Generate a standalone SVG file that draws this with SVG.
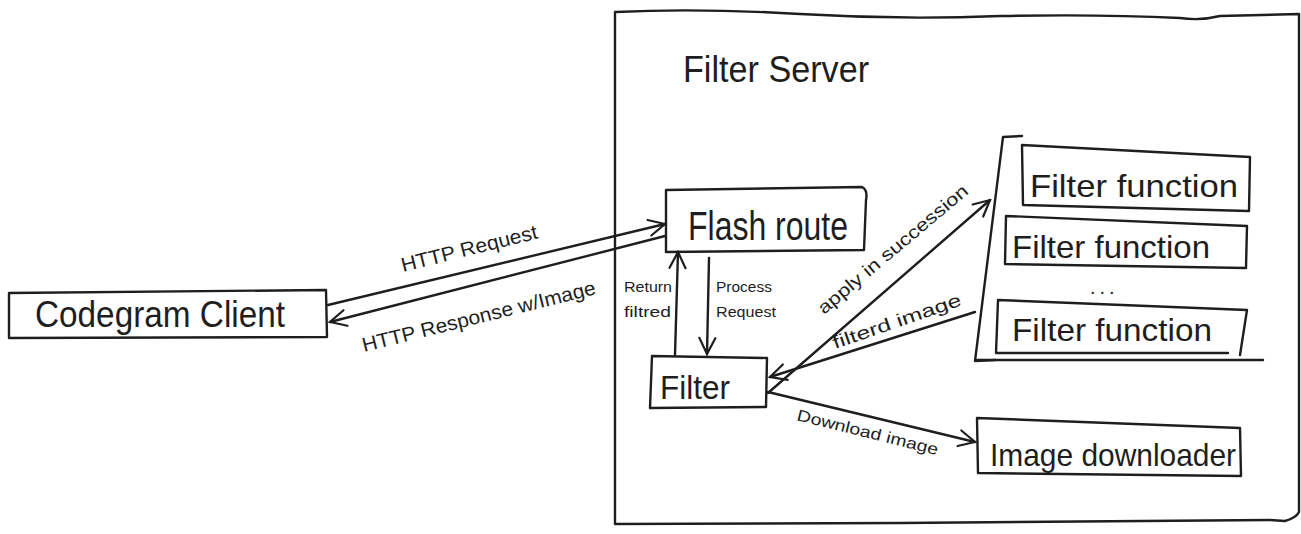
<svg xmlns="http://www.w3.org/2000/svg" width="1301" height="534" viewBox="0 0 1301 534">
<style>
.s{fill:none;stroke:#1e1e1e;stroke-width:2.4;stroke-linecap:round;stroke-linejoin:round}
.t{font-family:"Liberation Sans",Arial,sans-serif;fill:#1e1e1e}
.big{font-size:36px}
</style>
<defs>
<marker id="ah" viewBox="0 0 20 20" refX="18" refY="10" markerWidth="20" markerHeight="20" markerUnits="userSpaceOnUse" orient="auto">
<path d="M2,2 L18,10 L2,18" fill="none" stroke="#1e1e1e" stroke-width="2.2" stroke-linecap="round"/>
</marker>
</defs>
<rect width="1301" height="534" fill="#ffffff"/>

<g id="filter-server">
<path class="s" d="M615,12 Q700,8 800,14 Q900,20 1000,16 Q1100,14 1180,18 Q1200,21 1220,16 L1299,14 L1299,512 Q1296,518 1285,521 L1270,520 Q1100,522 900,523 L615,524 Z"/>
<text class="t" x="683" y="82" font-size="36" textLength="186" lengthAdjust="spacingAndGlyphs">Filter Server</text>
</g>

<g id="codegram-client">
<path class="s" d="M9,293 L326,290 L327,337 L9,338 Z"/>
<text class="t big" x="35" y="327" font-size="40" textLength="250" lengthAdjust="spacingAndGlyphs">Codegram Client</text>
</g>

<g id="flash-route">
<path class="s" d="M666,190 L862,187 Q868,190 866,200 L864,250 L666,252 Z"/>
<text class="t" x="688" y="240" font-size="40" textLength="160" lengthAdjust="spacingAndGlyphs">Flash route</text>
</g>

<g id="filter">
<path class="s" d="M652,356 L767,358 L766,407 L650,408 Z"/>
<text class="t" x="660" y="399" font-size="34" textLength="70" lengthAdjust="spacingAndGlyphs">Filter</text>
</g>

<g id="filter-functions">
<path class="s" d="M1022,136 L1003,137 L975,361 L995,360"/>
<path class="s" d="M975,360 L1263,360"/>
<g id="ff1">
<path class="s" d="M1022,145 L1250,157 L1249,211 L1023,205 Z"/>
<text class="t" x="1030" y="197" font-size="32" textLength="208" lengthAdjust="spacingAndGlyphs">Filter function</text>
</g>
<g id="ff2">
<path class="s" d="M1006,216 L1247,226 L1246,268 L1005,264 Z"/>
<text class="t" x="1012" y="258" font-size="32" textLength="198" lengthAdjust="spacingAndGlyphs">Filter function</text>
</g>
<text class="t" x="1090" y="294" font-size="20" letter-spacing="4">...</text>
<g id="ff3">
<path class="s" d="M998,300 L1247,310 L1240,355 M998,300 L996,353 L1228,353"/>
<text class="t" x="1012" y="341" font-size="32" textLength="200" lengthAdjust="spacingAndGlyphs">Filter function</text>
</g>
</g>

<g id="image-downloader">
<path class="s" d="M977,418 L1240,428 L1241,476 L978,473 Z"/>
<text class="t" x="990" y="466" font-size="32" textLength="246" lengthAdjust="spacingAndGlyphs">Image downloader</text>
</g>

<g id="connectors">
<path class="s" d="M328,305 L665,224" marker-end="url(#ah)"/>
<path class="s" d="M665,236 L330,322" marker-end="url(#ah)"/>
<path class="s" d="M675,355 L678,252" marker-end="url(#ah)"/>
<path class="s" d="M709,258 L707,354" marker-end="url(#ah)"/>
<path class="s" d="M768,393 L990,200" marker-end="url(#ah)"/>
<path class="s" d="M975,312 L770,377" marker-end="url(#ah)"/>
<path class="s" d="M768,392 L975,442" marker-end="url(#ah)"/>

<text class="t" transform="translate(403,272) rotate(-14)" font-size="20" textLength="140" lengthAdjust="spacingAndGlyphs">HTTP Request</text>
<text class="t" transform="translate(364,352) rotate(-14)" font-size="20" textLength="240" lengthAdjust="spacingAndGlyphs">HTTP Response w/Image</text>
<text class="t" x="624" y="292" font-size="15" textLength="48" lengthAdjust="spacingAndGlyphs">Return</text>
<text class="t" x="624" y="317" font-size="15" textLength="47" lengthAdjust="spacingAndGlyphs">filtred</text>
<text class="t" x="716" y="292" font-size="15" textLength="56" lengthAdjust="spacingAndGlyphs">Process</text>
<text class="t" x="716" y="317" font-size="15" textLength="60" lengthAdjust="spacingAndGlyphs">Request</text>
<text class="t" transform="translate(824,315) rotate(-40)" font-size="18" textLength="190" lengthAdjust="spacingAndGlyphs">apply in succession</text>
<text class="t" transform="translate(835,349) rotate(-19)" font-size="18" textLength="135" lengthAdjust="spacingAndGlyphs">filterd image</text>
<text class="t" transform="translate(796,420) rotate(14)" font-size="16" textLength="145" lengthAdjust="spacingAndGlyphs">Download image</text>
</g>
</svg>
